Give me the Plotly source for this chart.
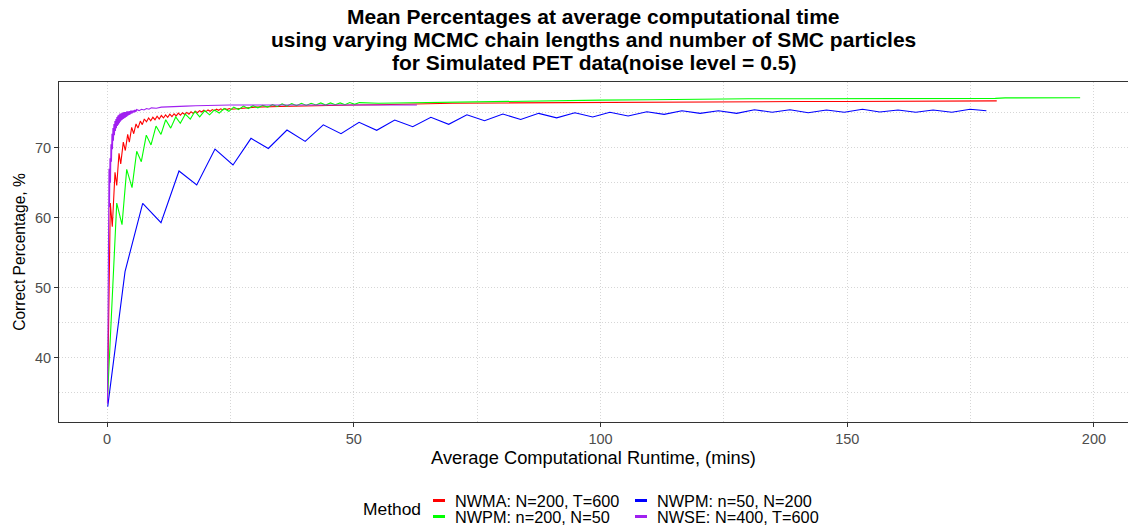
import plotly.graph_objects as go

# ---- data: mean correct percentage vs average runtime (mins) ----
nwma_x = [0.1, 0.67, 1.07, 1.62, 1.97, 2.43, 2.78, 3.3, 3.71, 4.19, 4.52, 5.0, 5.41, 5.88, 6.28, 6.75, 7.15, 7.56,
          8.0, 8.43, 8.86, 9.29, 9.72, 10.15, 10.58, 11.01, 11.44, 11.87, 12.3, 12.73, 13.16, 13.59, 14.02, 14.45,
          14.88, 15.31, 15.74, 16.17, 16.6, 17.03, 17.46, 17.89, 18.32, 18.75, 19.18, 19.61, 20.04, 20.47, 20.9,
          21.33, 21.76, 22.19, 22.62, 23.05, 23.48, 23.91, 24.34, 24.77, 25.2,
          27, 30, 35, 40, 45, 50, 55, 60, 65, 70, 80, 90, 100, 110, 120, 130, 140, 150, 160, 170, 180.3]
nwma_y = [33.5, 62.1, 58.7, 66.5, 64.6, 69.2, 67.7, 70.8, 69.6, 71.9, 70.8, 72.9, 72.0, 73.4, 72.8, 73.8, 73.3, 74.1,
          73.7, 74.25, 73.85, 74.35, 74.0, 74.5, 74.1, 74.6, 74.25, 74.7, 74.35, 74.8, 74.45, 74.85, 74.55, 74.95,
          74.65, 75.0, 74.75, 75.05, 74.8, 75.15, 74.9, 75.2, 75.0, 75.3, 75.1, 75.35, 75.15, 75.4, 75.2,
          75.45, 75.3, 75.5, 75.35, 75.55, 75.4, 75.6, 75.45, 75.6, 75.5,
          75.65, 75.8, 75.9, 76.0, 76.05, 76.1, 76.15, 76.25, 76.3, 76.35, 76.4, 76.45, 76.5, 76.55, 76.55, 76.6,
          76.6, 76.6, 76.65, 76.65, 76.7]

nwpm200_x = [0.1, 1.97, 3.04, 3.99, 5.07, 6.02, 6.95, 7.96, 8.92, 9.93, 10.94, 11.89, 12.91, 13.92, 14.85, 15.87,
             16.88, 17.83, 18.78, 19.8, 20.78, 21.76, 22.74, 23.72, 24.7, 25.68, 26.66, 27.64, 28.62, 29.6, 30.58,
             31.56, 32.54, 33.52, 34.5, 35.48, 36.46, 37.44, 38.42, 39.4, 40.38, 41.36, 42.34, 43.32, 44.3, 45.28,
             46.26, 47.24, 48.22, 49.2, 50.18, 51.16,
             55, 60, 65, 70, 75, 80, 85, 90, 95, 100, 110, 118, 120, 130, 140, 150, 160, 170, 180, 182, 190, 197.2]
nwpm200_y = [34.3, 62.1, 59.0, 66.9, 64.3, 69.5, 68.0, 71.8, 70.4, 73.1, 71.9, 74.0, 72.8, 74.4, 73.5, 74.8,
             74.1, 75.2, 74.4, 75.3, 74.7, 75.4, 74.95, 75.6, 75.2, 75.8, 75.45, 75.95, 75.6, 76.0, 75.7,
             76.05, 75.8, 76.15, 75.9, 76.25, 75.95, 76.3, 76.0, 76.35, 76.05, 76.35, 76.1, 76.4, 76.1, 76.4,
             76.15, 76.4, 76.15, 76.45, 76.2, 76.45,
             76.35, 76.4, 76.45, 76.5, 76.55, 76.6, 76.7, 76.8, 76.8, 76.8, 76.85, 76.9, 77.0, 77.0, 77.0, 77.0,
             77.0, 77.0, 77.05, 77.12, 77.12, 77.15]

nwpm50_x = [0.14, 3.65, 7.23, 10.94, 14.59, 18.18, 21.88, 25.53, 29.18, 32.69, 36.47, 40.16, 43.83, 47.42, 51.08,
            54.65, 58.3, 61.95, 65.63, 69.24, 72.93, 76.5, 80.22, 83.83, 87.48, 91.12, 94.81, 98.42, 101.9, 105.6,
            109.4, 112.9, 116.5, 120.2, 123.9, 127.6, 131.2, 134.8, 138.4, 142.1, 145.8, 149.4, 153.1, 156.6,
            160.3, 163.9, 167.4, 171.2, 174.9, 178.2]
nwpm50_y = [33.0, 52.3, 62.06, 59.29, 66.67, 64.67, 69.81, 67.53, 71.34, 69.89, 72.53, 70.91, 73.27, 72.0, 73.63,
            72.49, 73.96, 73.0, 74.34, 73.34, 74.71, 73.86, 74.81, 74.03, 74.91, 74.27, 75.0, 74.39, 75.06, 74.53,
            75.14, 74.77, 75.29, 74.91, 75.29, 74.91, 75.43, 75.06, 75.43, 75.0, 75.39, 75.06, 75.49, 75.1,
            75.39, 75.06, 75.39, 75.06, 75.49, 75.29]

nwse_x = [0.1, 0.3, 0.4, 0.5, 0.6, 0.7, 0.8, 0.9, 1.0, 1.1, 1.2, 1.3, 1.4, 1.5, 1.6, 1.7, 1.8, 1.9, 2.0, 2.1, 2.2,
          2.3, 2.4, 2.5, 2.6, 2.7, 2.8, 2.9, 3.0, 3.1, 3.2, 3.3, 3.4, 3.5, 3.6, 3.7, 3.8, 3.9, 4.0, 4.1, 4.2, 4.3,
          4.4, 4.5, 4.6, 4.7, 4.8, 4.9, 5.0, 5.1, 5.2, 5.3, 5.4, 5.5, 5.6, 5.7, 5.8, 5.9, 6.0,
          6.5, 7, 7.5, 8, 8.5, 9, 10, 11, 12, 14, 16, 18, 20, 25, 30, 35, 40, 45, 50, 55, 62.8]
nwse_y = [33.5, 58.7, 67.0, 61.5, 68.5, 65.0, 70.5, 68.0, 72.0, 69.8, 72.8, 71.0, 73.4, 71.8, 73.8, 72.4, 74.1,
          72.8, 74.4, 73.1, 74.6, 73.3, 74.7, 73.5, 74.9, 73.7, 74.9, 73.9, 75.0, 74.0, 75.0, 74.1, 75.1, 74.2,
          75.1, 74.3, 75.1, 74.4, 75.2, 74.5, 75.2, 74.6, 75.2, 74.7, 75.25, 74.75, 75.3, 74.85, 75.3, 74.9, 75.3,
          75.0, 75.35, 75.05, 75.4, 75.1, 75.4, 75.15, 75.45,
          75.3, 75.5, 75.4, 75.6, 75.5, 75.7, 75.65, 75.8, 75.85, 75.9, 75.95, 76.0, 76.05, 76.1, 76.1, 76.1,
          76.15, 76.1, 76.1, 76.1, 76.1]

method_labels = ["NWMA: N=200, T=600", "NWPM: n=200, N=50", "NWPM: n=50, N=200", "NWSE: N=400, T=600"]
method_colors = ["#FF0000", "#00FF00", "#0000FF", "#A020F0"]
x_ticks = [0, 50, 100, 150, 200]
y_ticks = [40, 50, 60, 70]

title_lines = ["Mean Percentages at average computational time",
               "using varying MCMC chain lengths and number of SMC particles",
               "for Simulated PET data(noise level = 0.5)"]

FONT = "Liberation Sans, Arial, Helvetica, sans-serif"
W, H = 1128, 528
ML, MR, MT, MB = 59, 0, 82, 106
PW, PH = W - ML - MR, H - MT - MB


def px(x):
    return (x - ML) / PW


def py(y):
    return (H - MB - y) / PH


series = [(nwma_x, nwma_y), (nwpm200_x, nwpm200_y), (nwpm50_x, nwpm50_y), (nwse_x, nwse_y)]

fig = go.Figure()
for (xs, ys), name, col in zip(series, method_labels, method_colors):
    fig.add_trace(go.Scatter(x=xs, y=ys, mode="lines", name=name,
                             line=dict(color=col, width=1.1), showlegend=False))

grid = dict(showgrid=True, gridcolor="#D6D6D6", griddash="1px,2px", gridwidth=1)

fig.update_layout(
    width=W, height=H,
    margin=dict(l=ML, r=MR, t=MT, b=MB),
    paper_bgcolor="white", plot_bgcolor="white",
    font=dict(family=FONT, color="black"),
    xaxis=dict(range=[-9.73, 206.9], tickvals=x_ticks, ticks="outside", ticklen=4, tickcolor="#333333",
               tickfont=dict(size=14.5, color="#4D4D4D"), showline=True, linecolor="#333333", linewidth=1,
               mirror=True, zeroline=False,
               minor=dict(tick0=0, dtick=25, **grid),
               title=dict(text="Average Computational Runtime, (mins)", font=dict(size=18.3), standoff=2),
               **grid),
    yaxis=dict(range=[30.81, 79.39], tickvals=y_ticks, ticks="outside", ticklen=4, tickcolor="#333333",
               tickfont=dict(size=14.5, color="#4D4D4D"), showline=True, linecolor="#333333", linewidth=1,
               mirror=False, zeroline=False,
               minor=dict(tick0=30, dtick=5, **grid),
               title=dict(text="Correct Percentage, %", font=dict(size=15.6), standoff=5),
               **grid),
)

# title, three centred bold lines
for txt, yy in zip(title_lines, [16, 39, 62]):
    fig.add_annotation(text="<b>%s</b>" % txt, xref="paper", yref="paper", x=px(593.5), y=py(yy),
                       xanchor="center", yanchor="middle", showarrow=False,
                       font=dict(size=21, family=FONT, color="black"))

# legend: title on the left, keys in two columns
fig.add_annotation(text="Method", xref="paper", yref="paper", x=px(361), y=py(509), xanchor="left",
                   yanchor="middle", showarrow=False, font=dict(size=17.4, family=FONT, color="black"))
key_pos = [(433, 500.5), (433, 516.5), (635, 500.5), (635, 516.5)]
for (kx, ky), name, col in zip(key_pos, method_labels, method_colors):
    fig.add_shape(type="line", xref="paper", yref="paper", x0=px(kx), x1=px(kx + 12), y0=py(ky), y1=py(ky),
                  line=dict(color=col, width=3))
    fig.add_annotation(text=name, xref="paper", yref="paper", x=px(kx + 21), y=py(ky), xanchor="left",
                       yanchor="middle", showarrow=False, borderpad=0,
                       font=dict(size=16.3, family=FONT, color="black"))

fig.write_html("out.html")
